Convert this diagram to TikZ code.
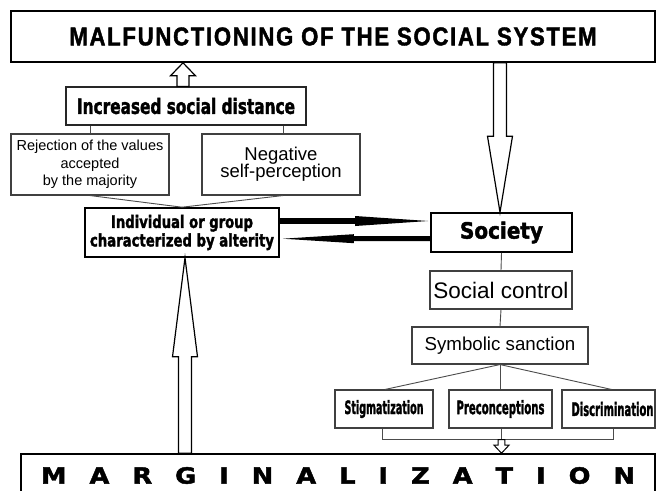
\documentclass[tikz,border=0pt]{standalone}
\usepackage{graphicx}
\usepackage{fontspec}
\setmainfont{Liberation Sans}
\newfontfamily\heavyfont{DejaVu Sans Bold}[FakeBold=2]
\newfontfamily\titlefont{Liberation Sans Bold}[FakeStretch=0.75,LetterSpace=6,FakeBold=1.5]
\newfontfamily\margfont{DejaVu Sans Bold}[FakeStretch=1.15,FakeBold=2]
\newcommand\negtextfont{\fontsize{18.5}{17}\selectfont\lineskiplimit-8pt\relax}
\usetikzlibrary{calc}
\tikzset{
  box/.style={draw=black!75, line width=1.1pt, inner sep=0pt, align=center, fill=white},
  boxk/.style={draw=black, line width=1.6pt, inner sep=0pt, align=center, fill=white},
  conn/.style={draw=black!70, line width=0.9pt},
  hollow/.style={draw=black, line width=1.2pt, fill=white, line join=miter},
  solidarrow/.style={fill=black},
  heavy/.style={font=\heavyfont\fontsize{12}{18.5}\selectfont},
}
\begin{document}
\begin{tikzpicture}[x=1pt,y=-1pt]
\fill[white] (0,0) rectangle (656,490);
\clip (0,0) rectangle (656,490);

% boxes
\node[boxk, minimum width=644pt, minimum height=51pt] (top) at (333,36.5)
  {\resizebox{527pt}{18pt}{\titlefont MALFUNCTIONING OF THE SOCIAL SYSTEM}};
\node[box, draw=black!85, line width=1.3pt, minimum width=240pt, minimum height=38pt, heavy] (incr) at (186,106)
  {\resizebox{218pt}{16pt}{Increased social distance}};
\node[box, minimum width=158pt, minimum height=61pt, font=\fontsize{14.5}{17.5}\selectfont] (rej) at (90,164.5)
  {Rejection of the values\\accepted\\by the majority};
\node[box, minimum width=158pt, minimum height=61pt, font=\negtextfont] (neg) at (281,164.5)
  {Negative\\self-perception};
\node[boxk, minimum width=194pt, minimum height=49pt, heavy] (indiv) at (182,232.5)
  {\resizebox{142pt}{13pt}{Individual or group}\\\resizebox{184pt}{13pt}{characterized by alterity}};
\node[boxk, minimum width=141pt, minimum height=39pt, heavy] (soc) at (501.5,232.5)
  {\resizebox{83pt}{17pt}{Society}};
\node[box, minimum width=142pt, minimum height=38pt, font=\fontsize{22.5}{24}\selectfont] (sctrl) at (501,290)
  {Social control};
\node[box, minimum width=176pt, minimum height=37pt, font=\fontsize{18.7}{20}\selectfont] (symb) at (500,345.5)
  {Symbolic sanction};
\node[box, minimum width=98pt, minimum height=38pt, heavy] (stig) at (384,409)
  {\resizebox{79pt}{14pt}{Stigmatization}};
\node[box, minimum width=103pt, minimum height=38pt, heavy] (prec) at (500.5,409)
  {\resizebox{88pt}{14pt}{Preconceptions}};
\node[box, minimum width=93pt, minimum height=38pt, heavy] (disc) at (608.5,409)
  {\hspace*{8pt}\resizebox{82pt}{14pt}{Discrimination}};
\node[boxk, minimum width=634pt, minimum height=43pt, font=\margfont\fontsize{22.3}{24}\selectfont] (marg) at (338,475.5)
  {\resizebox{594pt}{16.5pt}{\makebox[594pt][s]{M\hfill A\hfill R\hfill G\hfill I\hfill N\hfill A\hfill L\hfill I\hfill Z\hfill A\hfill T\hfill I\hfill O\hfill N}}};

% thin connectors
\draw[conn] (rej.north |- incr.south) -- (rej.north);
\draw[conn] ([xshift=2pt]neg.north |- incr.south) -- ([xshift=2pt]neg.north);
\draw[conn] (rej.south) -- (indiv.north);
\draw[conn] ([xshift=2pt]neg.south) -- (indiv.north);
\draw[conn] (soc.south) -- (sctrl.north);
\draw[conn] (sctrl.south) -- (symb.north);
\draw[conn] (symb.south) -- ([xshift=1pt]stig.north);
\draw[conn] (symb.south) -- (symb.south |- prec.north);
\draw[conn] (symb.south) -- ([xshift=3pt]disc.north);
\coordinate (brk) at ($(prec.south)+(1,11)$);
\draw[conn] ([xshift=-2pt]stig.south) -- ([xshift=-2pt]stig.south |- brk) -- ([xshift=4.5pt]disc.south |- brk) -- ([xshift=4.5pt]disc.south);
\draw[conn] (brk |- prec.south) -- (brk);

% hollow arrow: Increased social distance -> Malfunctioning
\coordinate (aA) at ([xshift=-3pt]incr.north);
\draw[hollow] let \p1=(aA), \p2=(aA |- top.south) in
  (\x1-6pt,\y1) -- (\x1-6pt,\y2-13pt) -- (\x1-12.5pt,\y2-13pt) -- (\x2,\y2)
  -- (\x1+12.5pt,\y2-13pt) -- (\x1+6pt,\y2-13pt) -- (\x1+6pt,\y1) -- cycle;

% hollow arrow: Malfunctioning -> Society
\coordinate (aB) at (500,0 |- top.south);
\draw[hollow] let \p1=(aB), \p2=(aB |- soc.north) in
  (\x1-6.5pt,\y1) -- (\x1-6.5pt,\y2+76pt) -- (\x1-12.5pt,\y2+76pt) -- (\x2,\y2)
  -- (\x1+12.5pt,\y2+76pt) -- (\x1+6.5pt,\y2+76pt) -- (\x1+6.5pt,\y1) -- cycle;

% hollow arrow: Marginalization -> Individual
\coordinate (aC) at ([xshift=3pt]indiv.south |- marg.north);
\draw[hollow] let \p1=(aC), \p2=(aC |- indiv.south) in
  (\x1-6.5pt,\y1) -- (\x1-6.5pt,\y2-99pt) -- (\x1-12.5pt,\y2-99pt) -- (\x2,\y2)
  -- (\x1+12.5pt,\y2-99pt) -- (\x1+6.5pt,\y2-99pt) -- (\x1+6.5pt,\y1) -- cycle;

% small hollow arrow: bracket -> Marginalization
\draw[hollow, line width=1pt] let \p1=(brk), \p2=(brk |- marg.north) in
  (\x1-3.3pt,\y1) -- (\x1-3.3pt,\y2+8pt) -- (\x1-7.5pt,\y2+8pt) -- (\x2,\y2)
  -- (\x1+7.5pt,\y2+8pt) -- (\x1+3.3pt,\y2+8pt) -- (\x1+3.3pt,\y1) -- cycle;

% solid arrows between Individual and Society
\coordinate (eT) at ([yshift=11.5pt]indiv.east);
\coordinate (eH) at ($(eT -| soc.west)+(-2,0)$);
\fill[solidarrow] let \p1=(eT), \p2=(eH) in
  (\x1,\y1+2.8pt) -- (\x2-73pt,\y1+2.8pt) -- (\x2-73pt,\y1+5pt) -- (\x2,\y2)
  -- (\x2-73pt,\y1-5pt) -- (\x2-73pt,\y1-2.8pt) -- (\x1,\y1-2.8pt) -- cycle;
\coordinate (fT) at ([yshift=-6.2pt]soc.west);
\coordinate (fH) at ($(fT -| indiv.east)+(3,0)$);
\fill[solidarrow] let \p1=(fT), \p2=(fH) in
  (\x1,\y1+2.5pt) -- (\x2+71pt,\y1+2.5pt) -- (\x2+71pt,\y1+4.5pt) -- (\x2,\y2)
  -- (\x2+71pt,\y1-4.5pt) -- (\x2+71pt,\y1-2.5pt) -- (\x1,\y1-2.5pt) -- cycle;
\end{tikzpicture}
\end{document}
